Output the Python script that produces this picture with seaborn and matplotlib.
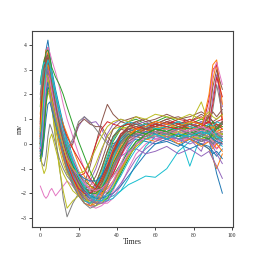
import pandas as pd
import matplotlib
matplotlib.use("Agg")
import matplotlib.pyplot as plt
import seaborn as sns

# sample times (shared by every trace)
times = [0, 1, 2, 3, 4, 5, 6, 8, 10, 12, 14, 17, 20, 23, 26, 29,
         32, 35, 38, 42, 46, 50, 55, 60, 66, 72, 78, 84, 88, 90, 92, 95]

# traces (mV)
s01 = [-0.2, 0.8, 2.5, 3.8, 4.2, 3.6, 3.0, 2.2, 1.5, 0.8, 0.1, -0.8, -1.5, -1.9, -2.1, -2.0, -1.6, -1.0, -0.4, 0.2, 0.5, 0.6, 0.5, 0.7, 0.6, 0.8, 0.7, 0.9, 0.8, 0.5, 0.3, 0.4]
s02 = [0.2, 1.5, 3.2, 3.8, 3.5, 3.0, 2.6, 1.9, 1.2, 0.5, -0.2, -1.0, -1.6, -2.0, -2.2, -2.1, -1.8, -1.3, -0.7, 0.0, 0.4, 0.5, 0.6, 0.5, 0.4, 0.6, 0.5, 0.7, 1.2, 2.6, 3.3, 1.0]
s03 = [2.5, 3.0, 3.4, 3.6, 3.3, 2.9, 2.5, 1.8, 1.0, 0.3, -0.4, -1.1, -1.6, -1.8, -1.9, -1.6, -1.0, -0.3, 0.3, 0.7, 0.8, 0.7, 0.6, 0.8, 0.7, 0.9, 0.6, 0.8, 0.6, 0.4, 0.5, 0.3]
s04 = [-0.5, -0.2, 0.8, 2.0, 2.5, 2.2, 1.6, 0.8, 0.1, -0.5, -1.0, -1.5, -1.9, -2.2, -2.3, -2.2, -2.0, -1.7, -1.2, -0.5, 0.1, 0.3, 0.2, 0.3, 0.4, 0.2, 0.3, 0.1, 0.2, 0.0, -0.2, 0.1]
s05 = [0.0, 0.9, 2.2, 3.1, 3.3, 2.8, 2.1, 1.2, 0.5, 0.0, -0.3, 0.1, 0.7, 1.1, 0.85, 0.9, 0.6, 0.1, -0.1, 0.1, 0.4, 0.3, 0.4, 0.2, 0.3, 0.1, 0.3, 0.2, 0.1, 0.0, 0.2, 0.3]
s06 = [0.3, 1.4, 2.8, 3.4, 3.0, 2.4, 1.7, 0.9, 0.3, -0.2, -0.4, 0.0, 0.8, 1.0, 0.8, 0.7, 0.7, 0.3, 0.0, 0.2, 0.5, 0.6, 0.5, 0.4, 0.6, 0.5, 0.4, 0.6, 0.5, 0.3, 0.4, 0.5]
s07 = [-1.7, -1.9, -2.1, -2.2, -2.1, -1.9, -1.8, -2.1, -1.9, -1.7, -1.5, -1.7, -2.0, -2.2, -2.4, -2.3, -2.0, -1.6, -1.1, -0.5, 0.0, 0.3, 0.4, 0.3, 0.5, 0.4, 0.2, 0.4, 0.3, 0.1, -0.2, 0.0]
s08 = [0.5, 1.8, 3.0, 3.5, 3.2, 2.5, 1.6, 0.3, -0.9, -2.2, -2.95, -2.4, -2.0, -2.1, -2.2, -2.0, -1.6, -1.1, -0.5, 0.1, 0.4, 0.5, 0.4, 0.6, 0.5, 0.3, 0.5, 0.4, 0.6, 0.9, 0.7, 0.4]
s09 = [0.0, 0.6, 1.8, 2.6, 2.8, 2.3, 1.5, 0.2, -1.0, -1.9, -2.6, -2.3, -2.1, -2.0, -2.2, -1.9, -1.5, -0.9, -0.3, 0.3, 0.5, 0.4, 0.6, 0.5, 0.4, 0.6, 0.4, 0.3, 0.5, 0.7, 0.4, 0.2]
s10 = [-0.3, 0.3, 1.5, 2.4, 2.7, 2.3, 1.8, 1.0, 0.3, -0.3, -0.8, -1.3, -1.7, -2.0, -2.2, -2.3, -2.3, -2.2, -2.1, -1.9, -1.65, -1.5, -1.3, -1.35, -1.0, -0.3, 0.1, 0.3, 0.5, 0.3, 0.4, 0.2]
s11 = [0.1, 1.2, 2.9, 3.6, 3.4, 2.9, 2.3, 1.4, 0.6, -0.1, -0.7, -1.3, -1.8, -2.1, -2.3, -2.4, -2.2, -1.7, -1.0, -0.2, 0.3, 0.5, 0.6, 0.4, 0.5, 0.7, 0.6, 0.5, 0.4, 0.2, 0.4, 0.3]
s12 = [-0.6, -0.4, 0.3, 1.5, 2.2, 2.0, 1.5, 0.7, 0.0, -0.6, -1.1, -1.6, -1.9, -2.1, -2.0, -1.8, -1.4, -0.8, -0.2, 0.4, 0.6, 0.7, 0.5, 0.6, 0.8, 0.6, 0.7, 0.5, 0.6, 0.4, 0.5, 0.6]
s13 = [1.5, 2.6, 3.3, 3.5, 3.1, 2.6, 2.1, 1.3, 0.6, -0.1, -0.6, -1.2, -1.6, -1.9, -2.0, -1.8, -1.3, -0.6, 0.1, 0.6, 0.9, 1.0, 0.8, 0.9, 1.1, 0.9, 0.8, 1.0, 0.9, 0.7, 0.6, 0.8]
s14 = [0.4, 1.9, 3.1, 3.7, 3.9, 3.4, 2.8, 1.9, 1.1, 0.5, 0.0, -0.6, -1.2, -1.6, -1.8, -1.9, -1.8, -1.5, -1.0, -0.3, 0.2, 0.4, 0.3, 0.5, 0.3, 0.4, 0.2, 0.5, 1.8, 3.0, 3.2, 0.8]
s15 = [-0.3, 0.4, 1.6, 2.5, 2.9, 2.7, 2.2, 1.4, 0.7, 0.0, -0.5, -1.1, -1.5, -1.7, -1.5, -1.0, -0.3, 0.4, 0.8, 1.0, 0.9, 0.8, 0.9, 0.7, 0.8, 0.9, 0.7, 0.9, 0.8, 0.6, 0.7, 0.9]
s16 = [0.0, 0.8, 2.0, 2.9, 3.1, 2.6, 2.0, 1.1, 0.3, -0.4, -1.0, -1.6, -1.9, -1.6, -0.9, 0.0, 0.9, 1.6, 1.2, 0.9, 0.8, 0.9, 0.7, 0.8, 1.0, 0.8, 0.9, 0.8, 1.1, 0.9, 0.8, 0.7]
s17 = [-0.2, 0.2, 1.1, 2.0, 2.4, 2.1, 1.7, 1.0, 0.4, -0.2, -0.7, -1.3, -1.8, -2.2, -2.5, -2.6, -2.5, -2.3, -1.9, -1.2, -0.5, 0.0, 0.3, 0.2, 0.1, 0.3, 0.2, 0.0, 0.1, -0.1, 0.0, 0.2]
s18 = [0.8, 2.0, 3.0, 3.3, 3.0, 2.5, 1.9, 1.0, 0.2, -0.5, -1.1, -1.7, -2.1, -2.4, -2.5, -2.3, -1.9, -1.3, -0.6, 0.1, 0.5, 0.6, 0.7, 0.5, 0.6, 0.4, 0.6, 0.5, 0.7, 1.4, 2.4, 1.2]
s19 = [-0.4, 0.0, 0.9, 1.8, 2.1, 1.9, 1.4, 0.6, -0.2, -0.8, -1.2, -1.5, -1.7, -1.6, -1.3, -0.8, -0.2, 0.3, 0.6, 0.7, 0.6, 0.5, 0.4, 0.6, 0.5, 0.3, 0.4, 0.2, 0.3, 0.1, 0.3, 0.4]
s20 = [0.2, 1.0, 2.4, 3.2, 3.6, 3.3, 2.9, 2.1, 1.4, 0.8, 0.2, -0.5, -1.1, -1.6, -1.9, -2.1, -2.2, -2.0, -1.6, -0.9, -0.2, 0.3, 0.5, 0.4, 0.3, 0.5, 0.4, 0.3, 0.2, 0.0, 0.1, -0.1]
s21 = [0.0, 0.7, 1.9, 2.7, 3.0, 2.6, 2.0, 1.2, 0.5, -0.1, -0.6, -1.2, -1.6, -1.8, -1.9, -1.7, -1.3, -0.7, -0.1, 0.4, 0.6, 0.5, 0.7, 0.6, 0.5, 0.6, 0.4, 0.5, 0.2, -0.5, -1.2, -2.0]
s22 = [1.0, 2.2, 2.9, 3.1, 2.8, 2.3, 1.8, 1.1, 0.5, 0.0, -0.5, -1.0, -1.4, -1.7, -1.8, -1.7, -1.5, -1.1, -0.6, 0.0, 0.4, 0.3, 0.2, 0.4, 0.3, 0.1, 0.2, 0.0, -0.2, -0.6, -1.0, -0.4]
s23 = [-0.5, -0.1, 1.0, 2.2, 2.8, 2.9, 2.6, 1.9, 1.2, 0.5, -0.1, -0.8, -1.4, -1.9, -2.2, -2.4, -2.4, -2.2, -1.8, -1.1, -0.4, 0.1, 0.4, 0.6, 0.5, 0.7, 0.5, 0.6, 0.5, 0.3, 0.2, 0.4]
s24 = [0.3, 1.3, 2.6, 3.3, 3.5, 3.0, 2.4, 1.5, 0.7, 0.0, -0.6, -1.3, -1.9, -2.3, -2.4, -2.2, -1.7, -1.0, -0.3, 0.4, 0.7, 0.8, 0.7, 0.9, 0.8, 1.0, 0.9, 1.1, 0.9, 0.8, 0.9, 1.0]
s25 = [0.6, 1.6, 2.4, 2.7, 2.5, 2.1, 1.6, 0.9, 0.2, -0.4, -0.9, -1.4, -1.7, -1.9, -2.1, -2.0, -1.8, -1.4, -0.9, -0.2, 0.3, 0.5, 0.4, 0.3, 0.5, 0.4, 0.2, -0.3, 0.6, 1.9, 2.8, 1.5]
s26 = [-0.2, 0.5, 1.7, 2.6, 3.2, 3.0, 2.5, 1.7, 1.0, 0.4, -0.2, -0.9, -1.5, -1.8, -1.7, -1.3, -0.7, 0.0, 0.6, 0.9, 1.0, 1.1, 0.9, 1.0, 1.2, 1.0, 1.1, 1.3, 1.1, 0.9, 1.0, 1.2]
s27 = [0.0, 0.3, 1.2, 2.1, 2.6, 2.4, 1.9, 1.2, 0.6, 0.0, -0.5, -1.0, -1.4, -1.8, -2.1, -2.3, -2.4, -2.4, -2.2, -1.7, -1.0, -0.4, 0.0, 0.2, 0.3, 0.1, 0.2, 0.4, 0.3, 0.1, 0.0, 0.2]
s28 = [2.0, 2.7, 3.2, 3.3, 3.0, 2.6, 2.2, 1.6, 1.0, 0.4, -0.2, -0.9, -1.5, -1.9, -2.1, -2.0, -1.7, -1.2, -0.6, 0.0, 0.3, 0.4, 0.5, 0.3, 0.4, 0.2, 0.3, 0.1, 0.3, 0.2, 0.0, 0.1]
s29 = [-0.1, 0.9, 2.3, 3.0, 3.1, 2.7, 2.2, 1.4, 0.7, 0.1, -0.4, -1.0, -1.5, -1.8, -1.9, -1.6, -1.1, -0.5, 0.2, 0.6, 0.7, 0.6, 0.8, 0.7, 0.6, 0.8, 0.8, 1.7, 0.8, 0.6, 0.8, 0.7]
s30 = [0.4, 1.5, 2.7, 3.2, 3.0, 2.5, 2.0, 1.2, 0.5, -0.2, -0.7, -1.3, -1.8, -2.0, -2.0, -1.7, -1.2, -0.5, 0.2, 0.7, 0.9, 0.8, 0.7, 0.6, 0.7, 0.5, -0.9, 0.4, 0.5, 0.6, 0.4, 0.3]
s31 = [-0.7, -0.5, 0.2, 1.0, 1.6, 1.7, 1.4, 0.8, 0.2, -0.3, -0.8, -1.3, -1.7, -2.0, -2.2, -2.1, -1.9, -1.5, -1.0, -0.4, 0.0, 0.2, 0.1, 0.0, 0.2, 0.0, -0.2, 0.0, -0.1, -0.3, -0.5, -0.2]
s32 = [0.1, 1.1, 2.5, 3.4, 3.7, 3.2, 2.6, 1.7, 0.9, 0.2, -0.4, -1.1, -1.7, -2.1, -2.3, -2.3, -2.0, -1.5, -0.8, -0.1, 0.4, 0.6, 0.5, 0.7, 0.6, 0.5, 0.7, 0.6, 2.0, 3.2, 3.4, 1.6]
s33 = [0.0, 0.5, 1.4, 2.3, 2.7, 2.5, 2.1, 1.5, 0.9, 0.3, -0.2, -0.7, -1.2, -1.5, -1.7, -1.8, -1.8, -1.6, -1.3, -0.8, -0.3, 0.1, 0.3, 0.4, 0.5, 0.3, 0.4, 0.6, 0.5, 0.4, 0.3, 0.5]
s34 = [0.7, 1.7, 2.8, 3.3, 3.1, 2.6, 2.1, 1.3, 0.6, 0.0, -0.5, -1.0, -1.3, -1.2, -0.7, 0.0, 0.6, 0.9, 0.8, 0.7, 0.8, 0.6, 0.8, 0.7, 0.9, 0.8, 0.6, 0.8, 0.7, 0.5, 0.6, 0.8]
s35 = [-0.4, 0.1, 1.2, 2.3, 2.9, 2.8, 2.4, 1.6, 0.8, 0.1, -0.5, -1.2, -1.8, -2.2, -2.5, -2.5, -2.3, -2.0, -1.6, -1.0, -0.4, 0.0, 0.2, 0.3, 0.2, 0.4, 0.3, 0.1, 0.2, 0.0, 0.1, 0.3]
s36 = [0.2, 1.3, 2.7, 3.5, 3.4, 2.8, 2.2, 1.3, 0.5, -0.2, -0.8, -1.4, -1.9, -2.1, -2.0, -1.6, -1.0, -0.3, 0.3, 0.6, 0.5, 0.4, 0.6, 0.5, 0.7, 0.6, 0.5, 0.7, 1.1, 2.3, 3.0, 2.2]
s37 = [0.5, 1.5, 2.8, 3.6, 3.9, 3.7, 3.4, 2.9, 2.3, 1.6, 1.0, 0.3, -0.4, -1.0, -1.5, -1.8, -1.9, -1.7, -1.2, -0.5, 0.1, 0.4, 0.5, 0.4, 0.6, 0.5, 0.4, 0.5, 0.6, 0.4, 0.3, 0.5]
s38 = [-0.6, -0.8, -0.9, -0.5, 0.3, 0.8, 0.6, 0.0, -0.6, -1.0, -1.3, -1.6, -1.9, -2.2, -2.4, -2.3, -2.0, -1.6, -1.0, -0.4, 0.1, 0.3, 0.2, 0.4, 0.3, 0.2, 0.3, 0.1, 0.2, 0.0, 0.2, 0.1]
s39 = [-0.3, -0.9, -1.2, -1.0, -0.4, 0.2, 0.4, -0.2, -0.8, -1.2, -1.5, -1.9, -2.1, -2.3, -2.3, -2.1, -1.7, -1.1, -0.5, 0.1, 0.4, 0.5, 0.4, 0.3, 0.5, 0.4, 0.3, 0.5, 0.4, 0.2, 0.3, 0.4]
s40 = [0.1, 0.9, 2.1, 2.9, 3.2, 2.9, 2.4, 1.6, 0.9, 0.3, -0.2, -0.8, -1.3, -1.7, -2.0, -2.2, -2.3, -2.3, -2.2, -1.9, -1.4, -0.8, -0.1, 0.3, 0.4, 0.2, 0.4, 0.3, 0.5, 0.2, 0.3, 0.1]
s41 = [-0.5, 0.0, 1.0, 1.9, 2.3, 2.2, 1.8, 1.1, 0.4, -0.2, -0.7, -1.2, -1.6, -1.9, -2.1, -2.2, -2.2, -2.1, -2.0, -1.7, -1.3, -0.9, -0.4, 0.0, 0.1, -0.1, 0.2, 0.0, -0.2, -0.4, -0.3, -0.6]
s42 = [1.2, 2.3, 3.0, 3.2, 2.9, 2.5, 2.1, 1.6, 1.2, 0.8, 0.4, -0.2, -0.8, -1.3, -1.7, -1.9, -2.0, -1.8, -1.5, -1.0, -0.5, -0.1, 0.2, 0.1, 0.3, 0.0, 0.2, -0.1, 0.1, -0.2, 0.0, -0.3]
s43 = [0.6, 1.8, 3.0, 3.7, 3.8, 3.5, 3.1, 2.7, 2.4, 2.0, 1.5, 0.8, 0.1, -0.5, -1.1, -1.6, -1.9, -2.0, -1.8, -1.2, -0.6, 0.0, 0.4, 0.6, 0.5, 0.7, 0.6, 0.8, 0.7, 0.9, 0.6, 0.7]
s44 = [-0.2, 0.6, 1.9, 2.8, 3.1, 2.8, 2.4, 1.8, 1.2, 0.7, 0.3, -0.2, -0.6, -1.0, -1.4, -1.7, -1.8, -1.6, -1.2, -0.5, 0.2, 0.6, 0.8, 0.7, 0.9, 0.8, 1.0, 0.8, 0.9, 0.7, 0.8, 0.6]
s45 = [-0.4, 0.2, 1.3, 2.2, 2.6, 2.4, 1.9, 1.1, 0.4, -0.2, -0.7, -1.3, -1.8, -2.1, -2.3, -2.2, -1.9, -1.4, -0.9, -0.5, -0.3, -0.2, -0.4, -0.3, -0.1, -0.4, -0.2, -0.5, -0.3, -0.6, -0.9, -1.4]
s46 = [0.9, 2.1, 3.1, 3.5, 3.3, 2.8, 2.2, 1.3, 0.5, -0.1, -0.6, -1.1, -1.5, -1.8, -1.9, -1.8, -1.5, -1.0, -0.4, 0.3, 0.7, 0.9, 1.0, 0.8, 1.0, 1.1, 0.9, 1.2, 1.0, 1.3, 1.1, 1.4]
s47 = [-0.1, 0.4, 1.5, 2.5, 3.0, 2.9, 2.5, 1.8, 1.1, 0.5, 0.0, -0.6, -1.1, -1.5, -1.9, -2.1, -2.1, -1.9, -1.5, -0.8, -0.1, 0.3, 0.5, 0.3, 0.5, 0.4, 0.6, 0.5, 1.5, 2.9, 3.3, 2.4]
s48 = [0.4, 1.6, 2.9, 3.3, 3.0, 2.4, 1.8, 1.0, 0.4, 0.0, -0.2, 0.2, 0.9, 1.1, 0.9, 0.6, 0.3, 0.0, -0.2, 0.0, 0.3, 0.4, 0.3, 0.5, 0.4, 0.3, 0.5, 0.4, 0.3, 0.5, 0.4, 0.2]
s49 = [0.0, 0.4, 1.3, 2.2, 2.6, 2.5, 2.1, 1.4, 0.7, 0.1, -0.5, -1.1, -1.7, -2.1, -2.4, -2.5, -2.4, -2.1, -1.7, -1.1, -0.5, -0.1, 0.2, 0.4, 0.3, 0.5, 0.3, 0.2, 0.4, 0.3, 0.5, 0.4]
s50 = [2.4, 3.0, 3.3, 3.2, 2.8, 2.3, 1.8, 1.0, 0.3, -0.3, -0.9, -1.5, -2.0, -2.3, -2.4, -2.2, -1.8, -1.2, -0.6, 0.2, 0.6, 0.7, 0.8, 0.6, 0.7, 0.9, 0.7, 0.6, 0.8, 0.7, 0.9, 0.8]
s51 = [-0.3, 0.2, 1.2, 2.1, 2.5, 2.3, 1.9, 1.2, 0.6, 0.0, -0.4, -0.9, -1.2, -1.4, -1.5, -1.5, -1.3, -0.9, -0.4, 0.1, 0.4, 0.3, 0.5, 0.4, 0.2, 0.4, 0.3, 0.5, 0.4, 0.2, 0.1, 0.0]
s52 = [0.3, 1.2, 2.5, 3.1, 3.2, 2.8, 2.3, 1.4, 0.6, -0.1, -0.7, -1.4, -2.0, -2.4, -2.5, -2.4, -2.1, -1.6, -1.0, -0.3, 0.3, 0.6, 0.7, 0.9, 0.8, 0.7, 0.9, 0.8, 0.6, 0.7, 0.5, 0.6]
s53 = [-0.6, -0.3, 0.5, 1.6, 2.2, 2.3, 2.0, 1.4, 0.8, 0.2, -0.3, -0.9, -1.4, -1.8, -2.0, -2.0, -1.8, -1.4, -0.8, -0.2, 0.3, 0.5, 0.4, 0.6, 0.5, 0.3, 0.5, 0.3, 0.2, 0.4, 0.6, 0.9]
s54 = [0.8, 1.9, 2.8, 3.1, 2.9, 2.4, 1.9, 1.2, 0.5, -0.2, -0.8, -1.4, -1.8, -2.0, -2.0, -1.8, -1.4, -0.9, -0.3, 0.3, 0.6, 0.7, 0.6, 0.8, 0.7, 0.6, 0.8, 0.7, 0.9, 1.6, 2.7, 1.9]
s55 = [0.2, 0.9, 2.0, 2.8, 3.0, 2.7, 2.2, 1.5, 0.8, 0.2, -0.4, -1.0, -1.5, -1.9, -2.2, -2.4, -2.4, -2.3, -2.0, -1.6, -1.1, -0.6, -0.2, 0.1, 0.3, 0.2, 0.0, 0.2, 0.1, -0.1, -0.4, -0.8]
s56 = [0.0, 1.0, 2.6, 3.5, 3.6, 3.1, 2.5, 1.6, 0.8, 0.1, -0.5, -1.1, -1.6, -1.9, -2.0, -1.9, -1.6, -1.1, -0.4, 0.3, 0.7, 0.8, 0.6, 0.7, 0.9, 0.7, 0.8, 0.6, 0.7, 0.5, 0.7, 0.9]
s57 = [-0.2, 0.3, 1.4, 2.4, 2.8, 2.6, 2.1, 1.3, 0.5, -0.1, -0.6, -1.0, -1.3, -1.6, -1.8, -1.9, -1.8, -1.6, -1.3, -0.9, -0.4, 0.0, 0.3, 0.5, 0.4, 0.6, 0.5, 0.7, 0.6, 0.4, 0.5, 0.3]
s58 = [1.8, 2.5, 3.0, 3.1, 2.7, 2.2, 1.7, 0.9, 0.2, -0.4, -1.0, -1.6, -2.1, -2.4, -2.6, -2.5, -2.2, -1.7, -1.0, -0.3, 0.2, 0.4, 0.3, 0.5, 0.4, 0.6, 0.4, 0.3, 0.5, 0.4, 0.2, 0.3]
s59 = [0.5, 1.4, 2.3, 2.8, 2.7, 2.3, 1.8, 1.1, 0.5, -0.1, -0.6, -1.0, -1.2, -1.1, -0.7, -0.2, 0.3, 0.7, 0.9, 1.0, 0.9, 1.1, 1.0, 1.2, 1.1, 1.0, 1.2, 1.0, 1.3, 1.1, 1.0, 1.2]
s60 = [-0.1, 0.7, 2.0, 3.0, 3.4, 3.2, 2.7, 1.9, 1.2, 0.6, 0.0, -0.7, -1.3, -1.8, -2.1, -2.3, -2.3, -2.1, -1.8, -1.3, -0.7, -0.2, 0.2, 0.4, 0.2, 0.4, 0.3, 0.5, 0.4, 0.6, 0.3, 0.2]

traces = [s01, s02, s03, s04, s05, s06, s07, s08, s09, s10, s11, s12, s13,
          s14, s15, s16, s17, s18, s19, s20, s21, s22, s23, s24, s25, s26,
          s27, s28, s29, s30, s31, s32, s33, s34, s35, s36, s37, s38, s39,
          s40, s41, s42, s43, s44, s45, s46, s47, s48, s49, s50, s51, s52,
          s53, s54, s55, s56, s57, s58, s59, s60]

# long-form table for seaborn
rows = []
for i, tr in enumerate(traces):
    for t, v in zip(times, tr):
        rows.append({"id": i, "Times": t, "mv": v})
df = pd.DataFrame(rows)

sns.set_style("ticks")
plt.rcParams["font.family"] = ["Liberation Serif", "DejaVu Serif"]

fig = plt.figure(figsize=(2.6, 2.6), dpi=100)
ax = fig.add_subplot(111)
fig.subplots_adjust(left=0.123, right=0.896, bottom=0.127, top=0.88)

sns.lineplot(data=df, x="Times", y="mv", hue="id",
             palette=sns.color_palette("tab10", len(traces)),
             estimator=None, legend=False, lw=0.7, ax=ax)

ax.set_xlim(-4.3, 100.5)
ax.set_ylim(-3.36, 4.56)
ax.set_xticks([0, 20, 40, 60, 80, 100])
ax.set_yticks([-3, -2, -1, 0, 1, 2, 3, 4])
ax.tick_params(labelsize=4, length=2.5, width=0.6, pad=1.5)
ax.set_xlabel("Times", fontsize=5.5, labelpad=0.5)
ax.set_ylabel("mv", fontsize=5.5, labelpad=-2.5)
for sp in ax.spines.values():
    sp.set_linewidth(0.8)
    sp.set_color("#444444")

plt.savefig("out.png", dpi=100)
